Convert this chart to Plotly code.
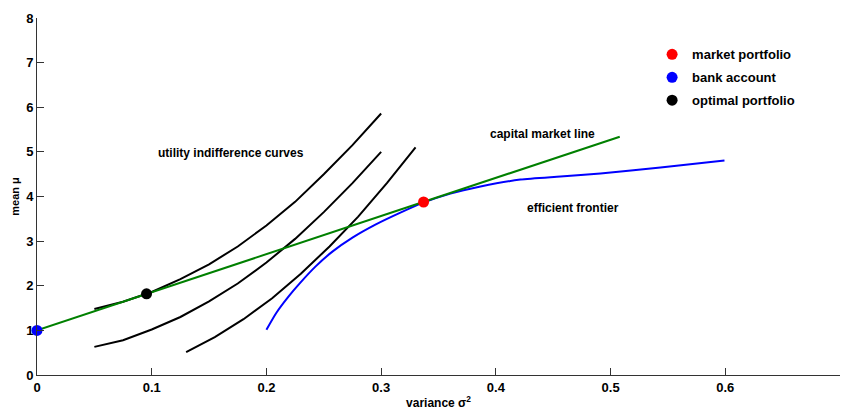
import plotly.graph_objects as go

# ---- data ----
curve1_x = [0.05, 0.075, 0.1, 0.125, 0.15, 0.175, 0.2, 0.225, 0.25, 0.275, 0.3]
curve1_y = [1.48, 1.64, 1.86, 2.15, 2.48, 2.88, 3.35, 3.88, 4.5, 5.15, 5.86]
curve2_x = [0.05, 0.075, 0.1, 0.125, 0.15, 0.175, 0.2, 0.225, 0.25, 0.275, 0.3]
curve2_y = [0.63, 0.78, 1.02, 1.3, 1.65, 2.05, 2.52, 3.05, 3.65, 4.3, 5.0]
curve3_x = [0.13, 0.155, 0.18, 0.205, 0.23, 0.255, 0.28, 0.305, 0.33]
curve3_y = [0.51, 0.85, 1.25, 1.72, 2.27, 2.88, 3.55, 4.3, 5.1]

cml_x = [0.0, 0.508]
cml_y = [1.0, 5.34]

frontier_x = [0.2, 0.2087, 0.2192, 0.2296, 0.2427, 0.2575, 0.275, 0.295, 0.3168, 0.3368,
              0.3604, 0.3866, 0.4214, 0.4563, 0.4912, 0.5435, 0.5993]
frontier_y = [1.015, 1.396, 1.757, 2.07, 2.428, 2.765, 3.079, 3.37, 3.639, 3.863,
              4.065, 4.222, 4.379, 4.446, 4.513, 4.648, 4.805]

market_x, market_y = [0.337], [3.877]
bank_x, bank_y = [0.0], [1.0]
optimal_x, optimal_y = [0.0955], [1.82]

x_ticks = [0, 0.1, 0.2, 0.3, 0.4, 0.5, 0.6, 0.7]
x_tick_text = ["0", "0.1", "0.2", "0.3", "0.4", "0.5", "0.6", "0.7"]
y_ticks = [0, 1, 2, 3, 4, 5, 6, 7, 8]

FONT = "Arial, 'Liberation Sans', Helvetica, sans-serif"

fig = go.Figure()
for cx, cy in [(curve1_x, curve1_y), (curve2_x, curve2_y), (curve3_x, curve3_y)]:
    fig.add_trace(go.Scatter(x=cx, y=cy, mode="lines", line=dict(color="black", width=2),
                             showlegend=False, hoverinfo="skip"))
fig.add_trace(go.Scatter(x=frontier_x, y=frontier_y, mode="lines",
                         line=dict(color="#0000FF", width=2, shape="spline", smoothing=0.6),
                         showlegend=False))
fig.add_trace(go.Scatter(x=cml_x, y=cml_y, mode="lines", line=dict(color="#008000", width=2),
                         showlegend=False))
fig.add_trace(go.Scatter(x=market_x, y=market_y, mode="markers", name="market portfolio",
                         marker=dict(color="#FF0000", size=11), cliponaxis=False, legendgroup="a"))
fig.add_trace(go.Scatter(x=bank_x, y=bank_y, mode="markers", name="bank account",
                         marker=dict(color="#0000FF", size=11), cliponaxis=False, legendgroup="b"))
fig.add_trace(go.Scatter(x=optimal_x, y=optimal_y, mode="markers", name="optimal portfolio",
                         marker=dict(color="black", size=11), cliponaxis=False, legendgroup="c"))

annos = [
    dict(x=0.104, y=4.98, text="utility indifference curves"),
    dict(x=0.3935, y=5.41, text="capital market line"),
    dict(x=0.4258, y=3.75, text="efficient frontier"),
]
for a in annos:
    fig.add_annotation(x=a["x"], y=a["y"], text=a["text"], showarrow=False, xanchor="left",
                       yanchor="middle", font=dict(family=FONT, size=12, color="black", weight="bold"))

axis_common = dict(showline=True, linecolor="#333333", linewidth=1, ticks="inside", ticklen=7,
                   tickcolor="#333333", showgrid=False, zeroline=False, mirror=False,
                   tickfont=dict(family=FONT, size=13, color="black", weight="bold"))

fig.update_layout(
    width=849, height=410,
    margin=dict(l=37, r=9, t=18, b=35),
    paper_bgcolor="white", plot_bgcolor="white",
    xaxis=dict(range=[0, 0.7], tickvals=x_ticks, ticktext=x_tick_text, automargin=False,
               title=dict(text="variance σ<sup>2</sup>",
                          font=dict(family=FONT, size=12, color="black", weight="bold")),
               **axis_common),
    yaxis=dict(range=[0, 8], tickvals=y_ticks, automargin=True,
               title=dict(text="mean μ", standoff=4,
                          font=dict(family=FONT, size=11, color="black", weight="bold")),
               **axis_common),
    legend=dict(x=0.766, y=0.94, xanchor="left", yanchor="top", bgcolor="rgba(0,0,0,0)",
                font=dict(family=FONT, size=13, color="black", weight="bold"),
                tracegroupgap=3, itemwidth=30),
    showlegend=True,
)

fig.write_html("out.html")
